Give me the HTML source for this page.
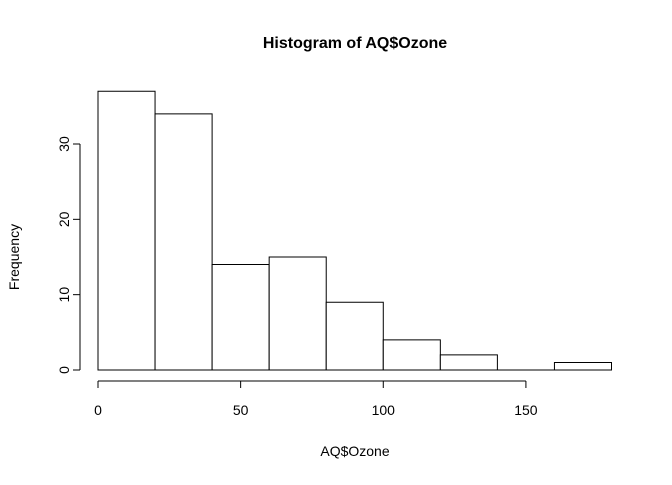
<!DOCTYPE html>
<html><head><meta charset="utf-8"><style>
body{margin:0;background:#fff;}
svg text{font-family:"Liberation Sans",Arial,sans-serif;fill:#000;}
</style></head><body>
<svg id="chart" width="672" height="480" xmlns="http://www.w3.org/2000/svg">
<rect width="672" height="480" fill="#fff"/>
<text x="355" y="48" text-anchor="middle" font-size="16" font-weight="bold">Histogram of AQ$Ozone</text>
<text x="355" y="456" text-anchor="middle" font-size="14">AQ$Ozone</text>
<text transform="translate(19,257) rotate(-90)" text-anchor="middle" font-size="14">Frequency</text>
<g id="bars"></g><g id="xaxis"></g><g id="yaxis"></g>
</svg>
<script>
const binEdges=[0,20,40,60,80,100,120,140,160,180];
const counts=[37,34,14,15,9,4,2,0,1];
const xTicks=[0,50,100,150];
const yTicks=[0,10,20,30];
const ns="http://www.w3.org/2000/svg";
const X=v=>98+v*(611.5-98)/180;
const Y=v=>370-v*(370-144)/30;
function mk(t,a,p){const e=document.createElementNS(ns,t);for(const k in a)e.setAttribute(k,a[k]);p.appendChild(e);return e;}
const bars=document.getElementById('bars');
counts.forEach((c,i)=>{
  const x0=X(binEdges[i]),x1=X(binEdges[i+1]),y0=Y(0),y1=Y(c);
  const r=mk('path',{d:`M${x0},${y0}L${x0},${y1}L${x1},${y1}L${x1},${y0}Z`,fill:'#fff',stroke:'#000','stroke-width':1},bars);
  
  
});
const xa=document.getElementById('xaxis');


mk('line',{x1:X(xTicks[0]),x2:X(xTicks[xTicks.length-1]),y1:381,y2:381,stroke:'#000'},xa);
xTicks.forEach(t=>{
  mk('line',{x1:X(t),x2:X(t),y1:381,y2:388,stroke:'#000'},xa);
  const tx=mk('text',{x:X(t),y:415,'text-anchor':'middle','font-size':14},xa);tx.textContent=t;
  
  
});
const ya=document.getElementById('yaxis');


mk('line',{x1:80,x2:80,y1:Y(yTicks[0]),y2:Y(yTicks[yTicks.length-1]),stroke:'#000'},ya);
yTicks.forEach(t=>{
  mk('line',{x1:73,x2:80,y1:Y(t),y2:Y(t),stroke:'#000'},ya);
  const tx=mk('text',{transform:`translate(69,${Y(t)}) rotate(-90)`,'text-anchor':'middle','font-size':14},ya);tx.textContent=t;
  
  
});
</script>
</body></html>
